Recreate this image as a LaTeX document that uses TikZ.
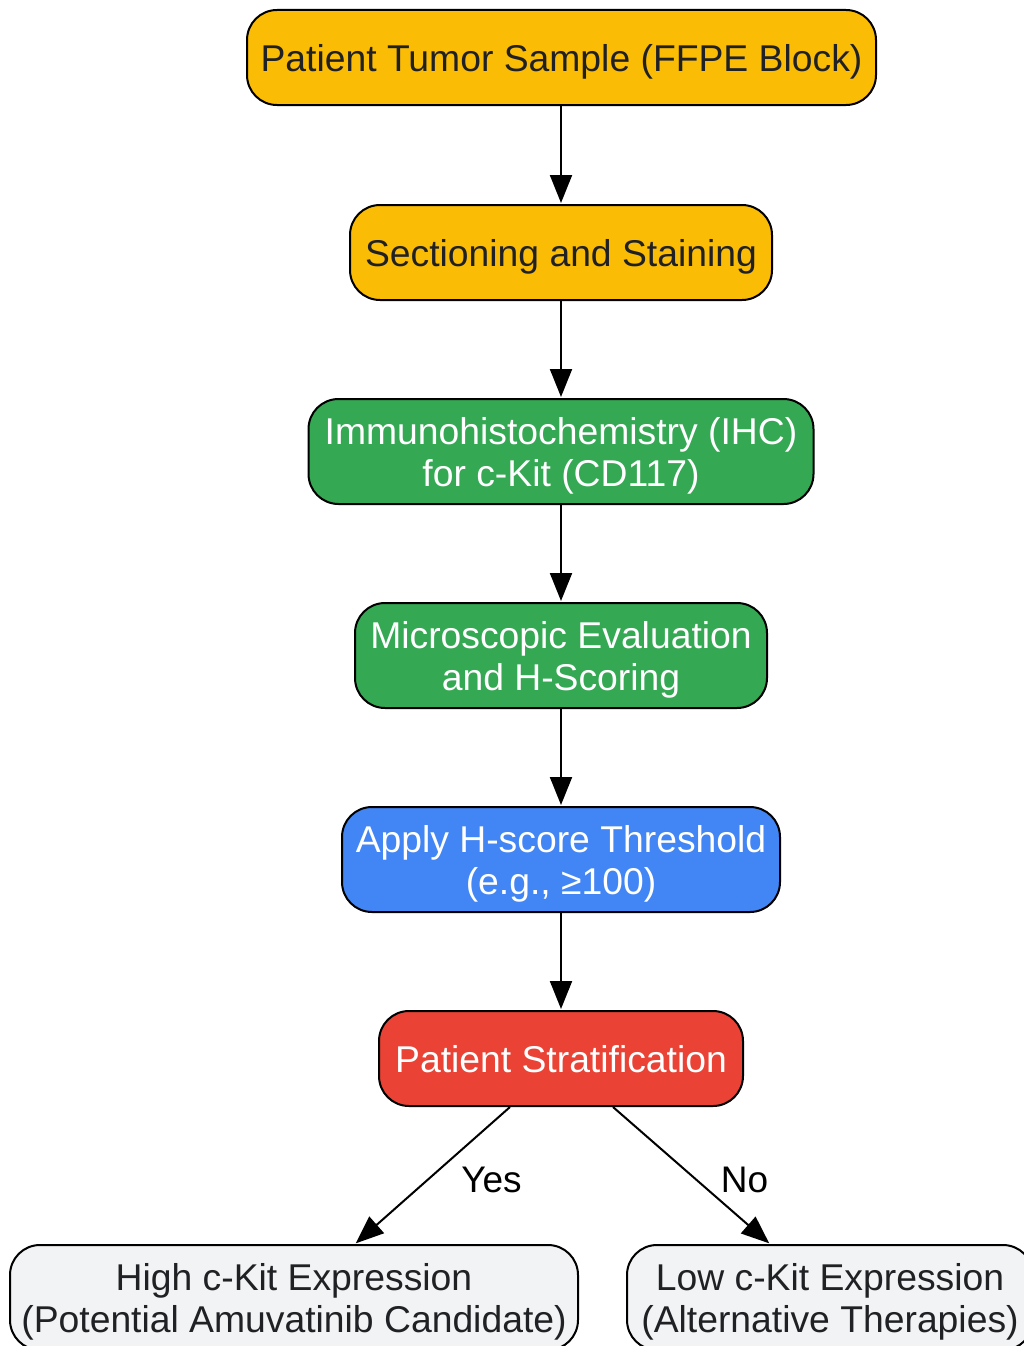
\documentclass[tikz,border=0pt]{standalone}
\usepackage{fontspec}
\setmainfont{Liberation Sans}
\usetikzlibrary{arrows.meta}
\definecolor{cyellow}{HTML}{FBBC05}
\definecolor{cgreen}{HTML}{34A853}
\definecolor{cblue}{HTML}{4285F4}
\definecolor{cred}{HTML}{EA4335}
\definecolor{cgrey}{HTML}{F1F3F4}
\definecolor{ctext}{HTML}{202124}
\tikzset{
  box/.style={draw=black, line width=2pt, rounded corners=30pt, align=center,
    inner sep=0pt, text depth=0pt, font=\fontsize{37.3}{42}\selectfont},
  ybox/.style={box, fill=cyellow, text=ctext, minimum height=95pt},
  gbox/.style={box, fill=cgreen, text=white, minimum height=105pt},
  bbox/.style={box, fill=cblue, text=white, minimum height=105pt},
  rbox/.style={box, fill=cred, text=white, minimum height=95pt},
  lbox/.style={box, fill=cgrey, text=ctext, minimum height=105pt},
  arr/.style={line width=2pt, -{Triangle[length=28pt,width=22pt]}, shorten >=1pt},
  lab/.style={font=\fontsize{37}{42}\selectfont, text=black}
}
\begin{document}
\begin{tikzpicture}[x=1pt,y=-1pt]
\useasboundingbox (0,0) rectangle (1024,1346);
\clip (0,0) rectangle (1024,1346);
\fill[white] (0,0) rectangle (1024,1346);
\node[ybox, minimum width=629pt] (sample) at (561.5,57.5) {Patient Tumor Sample (FFPE Block)};
\node[ybox, minimum width=422pt] (section) at (561,252.5) {Sectioning and Staining};
\node[gbox, minimum width=505pt] (ihc) at (561,451.5) {Immunohistochemistry (IHC)\\for c-Kit (CD117)};
\node[gbox, minimum width=412pt] (micro) at (561,655.5) {Microscopic Evaluation\\and H-Scoring};
\node[bbox, minimum width=438pt] (apply) at (561,859.5) {Apply H-score Threshold\\(e.g., ≥100)};
\node[rbox, minimum width=364pt] (strat) at (561,1058.5) {Patient Stratification};
\node[lbox, minimum width=568pt] (high) at (294,1297.5) {High c-Kit Expression\\(Potential Amuvatinib Candidate)};
\node[lbox, minimum width=406pt] (low) at (830,1297.5) {Low c-Kit Expression\\(Alternative Therapies)};
\draw[arr] (sample.south -| section.north) -- (section.north);
\draw[arr] (section) -- (ihc);
\draw[arr] (ihc) -- (micro);
\draw[arr] (micro) -- (apply);
\draw[arr] (apply) -- (strat);
\draw[arr] ([xshift=-51pt]strat.south) -- node[lab, pos=0.5, xshift=59pt, yshift=-4pt] (yes) {Yes} ([xshift=61pt]high.north);
\draw[arr] ([xshift=52pt]strat.south) -- node[lab, pos=0.5, xshift=53pt, yshift=-4pt] (no) {No} ([xshift=-60pt]low.north);
\end{tikzpicture}
\end{document}
